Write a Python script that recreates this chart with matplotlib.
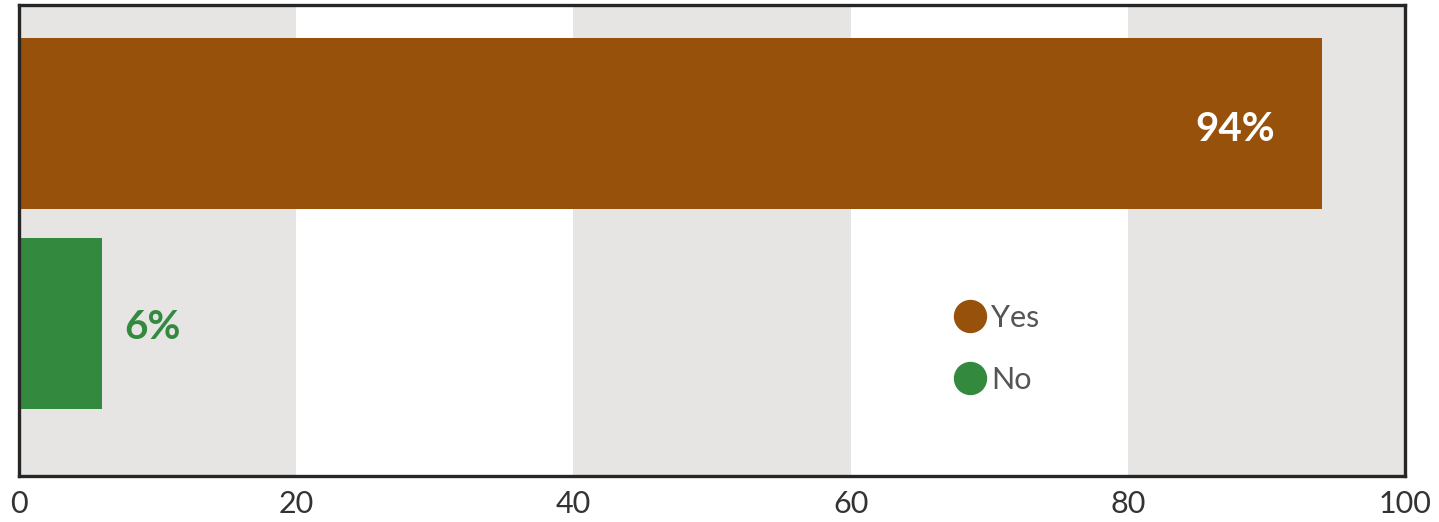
import numpy as np
import matplotlib.pyplot as plt
from matplotlib.lines import Line2D

# Datos
categorias = ["No", "Yes"]
valores = [6, 94]
colores = ["#338A3E", "#97510A"]
etiquetas = ["6%", "94%"]
bandas = [(0, 20), (40, 60), (80, 100)]
ticks_x = [0, 20, 40, 60, 80, 100]

plt.rcParams['font.family'] = ['Lato', 'DejaVu Sans']

fig = plt.figure(figsize=(14.39, 5.22), dpi=100)
ax = fig.add_axes([19 / 1439, 46 / 522, (1405 - 19) / 1439, (476 - 5) / 522])

# Bandas de fondo
for x0, x1 in bandas:
    ax.axvspan(x0, x1, color="#E6E5E4", lw=0, zorder=0)

pos = np.arange(len(categorias))
ax.barh(pos, valores, height=0.855, color=colores, zorder=2)

# Etiquetas de valor
ax.text(valores[1] - 3.4, pos[1] - 0.03, etiquetas[1], color="white", fontsize=29,
        fontweight="bold", ha="right", va="center", zorder=3)
ax.text(valores[0] + 1.6, pos[0] - 0.02, etiquetas[0], color=colores[0], fontsize=29,
        fontweight="bold", ha="left", va="center", zorder=3)

ax.set_xlim(0, 100)
ax.set_ylim(-0.7625, 1.5925)
ax.set_xticks(ticks_x)
ax.set_xticklabels([str(t) for t in ticks_x])
ax.set_yticks([])
ax.tick_params(axis="x", length=0, pad=10, labelsize=22, labelcolor="#333333")

for s in ax.spines.values():
    s.set_linewidth(2.4)
    s.set_color("#262626")

# Leyenda
handles = [Line2D([], [], marker="o", ls="", markersize=23, color=colores[1]),
           Line2D([], [], marker="o", ls="", markersize=23, color=colores[0])]
leg = ax.legend(handles, ["Yes", "No"], loc="center left", bbox_to_anchor=(0.652, 0.27),
                frameon=False, fontsize=22, labelcolor="#555555", handletextpad=0.05,
                labelspacing=1.1, handlelength=1.3)

fig.savefig("out.png", dpi=100)
